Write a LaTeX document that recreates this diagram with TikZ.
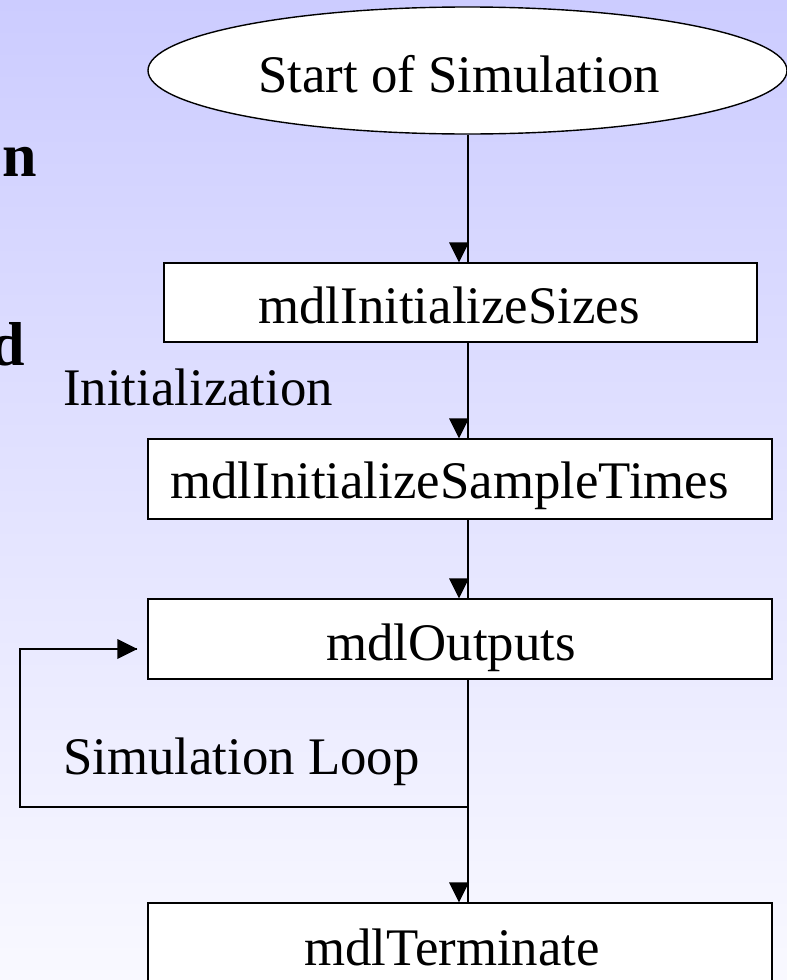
\documentclass[tikz,border=0pt]{standalone}
\usepackage{fontspec}
\setmainfont{Liberation Serif}
\usetikzlibrary{shapes.geometric,calc}
\definecolor{bgtop}{RGB}{204,204,255}
\definecolor{bgbot}{RGB}{249,249,255}
\begin{document}
\begin{tikzpicture}[x=1pt,y=-1pt,
  stepbox/.style={draw, fill=white, line width=1.4pt, inner sep=0pt,
    minimum width=624pt, minimum height=80pt},
  lbl/.style={font=\fontsize{52.8}{60}\selectfont, inner sep=0pt, anchor=base},
  boldlbl/.style={font=\fontsize{62}{70}\selectfont\bfseries, inner sep=0pt, anchor=base east},
  conn/.style={line width=1.2pt},
  downhead/.pic={\fill (0,0) -- (-10,-20) -- (10,-20) -- cycle;},
  righthead/.pic={\fill (0,0) -- (-20,-10) -- (-20,10) -- cycle;}
]
% page and background
\useasboundingbox (0,0) rectangle (787,980);
\shade[top color=bgtop, bottom color=bgbot] (0,0) rectangle (787,980);

% bold words running in from the left margin
\node[boldlbl] (bon) at (37,176) {on};
\node[boldlbl] (bd) at (25,365) {d};

% flow chart blocks
\node[ellipse, draw, fill=white, line width=1.4pt, inner sep=0pt,
      minimum width=639pt, minimum height=127pt] (start) at (467.5,70.5) {};
\node[stepbox, minimum width=593pt, minimum height=79pt] (sizes) at (460.5,302.5) {};
\node[stepbox] (times) at (460,479) {};
\node[stepbox] (outputs) at (460,639) {};
\node[stepbox] (term) at (460,943) {};

% block texts
\node[lbl] (tstart) at (459,92) {Start of Simulation};
\node[lbl] (tsizes) at (449,323) {mdlInitializeSizes};
\node[lbl] (ttimes) at (449.5,498) {mdlInitializeSampleTimes};
\node[lbl] (touts) at (451,660) {mdlOutputs};
\node[lbl] (tterm) at (452,965) {mdlTerminate};
\node[lbl, anchor=base west] (tinit) at (63,405) {Initialization};
\node[lbl, anchor=base west] (tloop) at (63,774) {Simulation Loop};

% connector column and arrowhead column
\coordinate (lx) at (468,0);
\coordinate (hx) at (459,0);

\draw[conn] (start.south -| lx) -- (sizes.north -| lx);
\pic at (sizes.north -| hx) {downhead};
\draw[conn] (sizes.south -| lx) -- (times.north -| lx);
\pic at (times.north -| hx) {downhead};
\draw[conn] (times.south -| lx) -- (outputs.north -| lx);
\pic at (outputs.north -| hx) {downhead};
\draw[conn] (outputs.south -| lx) -- (term.north -| lx);
\pic at (term.north -| hx) {downhead};

% simulation loop back into mdlOutputs
\coordinate (lb) at (468,807);
\coordinate (lc1) at (20,807);
\coordinate (lc2) at (20,649);
\coordinate (lend) at ($(outputs.west |- lc2)+(-10,0)$);
\draw[conn] (lb) -- (lc1) -- (lc2) -- (lend);
\pic at (lend) {righthead};
\end{tikzpicture}
\end{document}
